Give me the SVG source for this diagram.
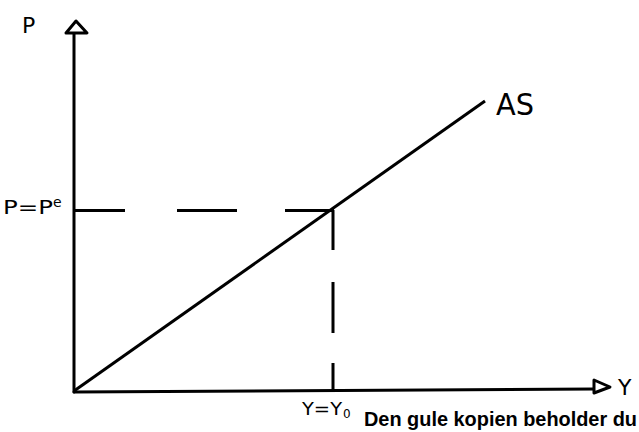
<svg xmlns="http://www.w3.org/2000/svg" width="639" height="432" viewBox="0 0 639 432">
<style>
.ax{stroke:#000;stroke-width:3;fill:none;stroke-linecap:round}
.hd{stroke:#000;stroke-width:3;fill:#fff;stroke-linejoin:round}
.ln{stroke:#000;stroke-width:3;fill:none;stroke-linecap:butt}
.lb{font-family:"DejaVu Sans","Liberation Sans",sans-serif;fill:#000}
.ft{font-family:"Liberation Sans",Arial,sans-serif;font-weight:bold;fill:#000}
</style>
<rect width="639" height="432" fill="#fff"/>
<g id="connectors">
  <line class="ax" x1="74" y1="392" x2="74" y2="33"/>
  <line class="ax" x1="74" y1="392" x2="594" y2="389"/>
  <line class="ln" x1="74" y1="391" x2="485" y2="101"/>
  <path class="ln" d="M73 210.5H125M177 210.5H237M285 210.5H334"/>
  <path class="ln" d="M333 210V250M333 282V333M333 363V391"/>
</g>
<g id="y-axis-arrow"><polygon class="hd" points="76,21 87,33 66,33"/></g>
<g id="x-axis-arrow"><polygon class="hd" points="594,380 610,387 594,393"/></g>
<g id="label-P"><text class="lb" x="22" y="33" font-size="22">P</text></g>
<g id="label-Pe"><text class="lb" x="3" y="214" font-size="19" textLength="50" lengthAdjust="spacingAndGlyphs">P=P</text><text class="lb" x="53" y="207" font-size="14">e</text></g>
<g id="label-AS"><text class="lb" x="496" y="115" font-size="30" textLength="38" lengthAdjust="spacingAndGlyphs">AS</text></g>
<g id="label-Y"><text class="lb" x="618" y="395" font-size="22">Y</text></g>
<g id="label-Y0"><text class="lb" x="302" y="415" font-size="17" textLength="40" lengthAdjust="spacingAndGlyphs">Y=Y</text><text class="lb" x="343" y="418" font-size="12">0</text></g>
<g id="footer"><text class="ft" x="364" y="426" font-size="20" textLength="273" lengthAdjust="spacingAndGlyphs">Den gule kopien beholder du</text></g>
</svg>
